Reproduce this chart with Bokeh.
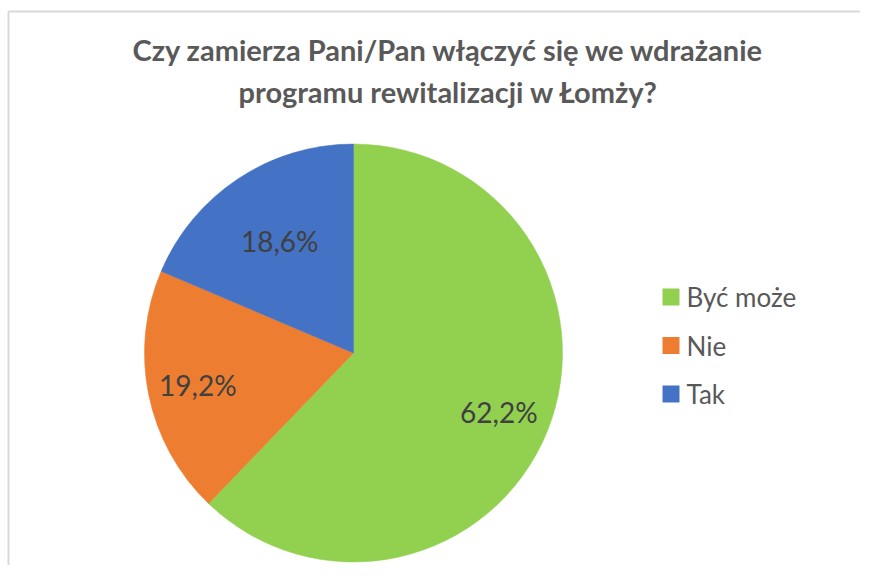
import math
from bokeh.plotting import figure
from bokeh.models import ColumnDataSource
from bokeh.core.properties import value
from bokeh.embed import file_html
from bokeh.resources import INLINE

# ---- data ----
title_lines = ["Czy zamierza Pani/Pan włączyć się we wdrażanie",
               "programu rewitalizacji w Łomży?"]
categories = ["Być może", "Nie", "Tak"]
shares = [62.2, 19.2, 18.6]
colors = ["#92D050", "#ED7D31", "#4472C4"]

# ---- layout/style ----
W, H = 860, 565
cx, cy, R = 353, 212.5, 209
label_rfrac = [0.75, 0.76, 0.64]
FONT = "Lato"

p = figure(width=W, height=H, x_range=(0, W), y_range=(0, H),
           output_backend="svg", toolbar_location=None,
           min_border=0, outline_line_color=None, background_fill_color="white")
p.axis.visible = False
p.grid.visible = False

# chart border (top and left edges visible in reference)
p.segment(x0=[8, 8], y0=[0, 554], x1=[8, W], y1=[554, 554],
          line_color="#d9d9d9", line_width=2)

total = sum(shares)
starts, ends, lx, ly, labels = [], [], [], [], []
cum = 0.0
for i, v in enumerate(shares):
    a0 = math.pi / 2 - 2 * math.pi * cum / total
    cum += v
    a1 = math.pi / 2 - 2 * math.pi * cum / total
    starts.append(a0)
    ends.append(a1)
    mid = (a0 + a1) / 2
    lx.append(cx + R * label_rfrac[i] * math.cos(mid))
    ly.append(cy + R * label_rfrac[i] * math.sin(mid))
    labels.append(f"{v:.1f}%".replace(".", ","))

src = ColumnDataSource(dict(start=starts, end=ends, color=colors,
                            lx=lx, ly=ly, label=labels, cat=categories))
p.wedge(x=cx, y=cy, radius=R, start_angle="start", end_angle="end",
        direction="clock", fill_color="color", line_color="color",
        line_width=0.5, source=src)

p.text(x="lx", y="ly", text="label", source=src, text_align="center",
       text_baseline="middle", text_font=value(FONT), text_font_size="28px",
       text_color="#404040")

# title
p.text(x=[448, 448], y=[516, 474], text=title_lines, text_align="center",
       text_baseline="middle", text_font=value(FONT), text_font_size="29px",
       text_font_style="bold", text_color="#595959")

# legend
leg_y = [H - 296.5 - i * 48.5 for i in range(len(categories))]
leg_src = ColumnDataSource(dict(y=leg_y, color=colors, cat=categories))
p.rect(x=670.5, y="y", width=17, height=17, fill_color="color",
       line_color=None, source=leg_src)
p.text(x=686, y="y", text="cat", source=leg_src, text_align="left",
       text_baseline="middle", text_font=value(FONT), text_font_size="26px",
       text_color="#595959")

open("out.html", "w").write(file_html(p, INLINE))
